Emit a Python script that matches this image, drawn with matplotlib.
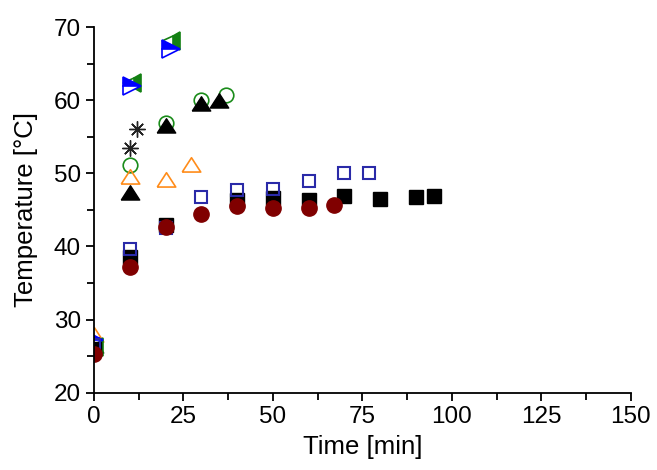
import numpy as np
import matplotlib.pyplot as plt
from matplotlib.ticker import MultipleLocator

plt.rcParams['font.family'] = ['Liberation Sans', 'DejaVu Sans']

# black filled squares
t_sq = [0, 10, 20, 40, 50, 60, 70, 80, 90, 95]
T_sq = [26.0, 38.5, 42.9, 46.4, 46.6, 46.4, 46.9, 46.5, 46.7, 46.9]

# blue open squares
t_osq = [0, 10, 20, 30, 40, 50, 60, 70, 77]
T_osq = [26.5, 39.6, 42.5, 46.7, 47.7, 47.8, 49.0, 50.0, 50.1]

# dark red circles
t_ci = [0, 10, 20, 30, 40, 50, 60, 67]
T_ci = [25.3, 37.2, 42.7, 44.4, 45.5, 45.2, 45.2, 45.7]

# orange open triangles
t_otr = [0, 10, 20, 27]
T_otr = [27.8, 49.3, 49.0, 51.0]

# black filled triangles
t_tr = [0, 10, 20, 30, 35]
T_tr = [26.3, 47.1, 56.3, 59.4, 59.7]

# green open circles
t_oci = [0, 10, 20, 30, 37]
T_oci = [26.6, 51.2, 56.9, 60.0, 60.7]

# asterisks
t_ast = [0, 10, 12]
T_ast = [26.8, 53.4, 56.1]

# green left triangles
t_lt = [0, 10.5, 21.5]
T_lt = [26.2, 62.4, 68.1]

# blue right triangles
t_rt = [0, 10.5, 21.5]
T_rt = [27.2, 62.0, 67.0]

# flattened up-triangle like the original software draws
tri = [(-1, -0.6), (1, -0.6), (0, 0.95), (-1, -0.6)]

fig = plt.figure(figsize=(6.57, 4.70), dpi=100)
ax = fig.add_axes([0.143, 0.1645, 0.817, 0.778])

ax.plot(t_ast, T_ast, ls='none', marker=(8, 2, 0), ms=11.5, mec='#222222', mew=1.0)
ax.plot(t_oci, T_oci, ls='none', marker='o', ms=10.5, mfc='none', mec='#1a8c1a', mew=1.2)
ax.plot(t_otr, T_otr, ls='none', marker=tri, ms=13.3, mfc='none', mec='#ff8c1a', mew=1.2)
ax.plot(t_tr, T_tr, ls='none', marker=tri, ms=13.3, mfc='black', mec='black')
ax.plot(t_lt, T_lt, ls='none', marker='<', ms=12.5, fillstyle='right', mfc='#138013',
        mfcalt='white', mec='#138013', mew=1.2)
ax.plot(t_rt, T_rt, ls='none', marker='>', ms=12.5, fillstyle='top', mfc='#0000ff',
        mfcalt='white', mec='#0000ff', mew=1.2)
ax.plot(t_sq, T_sq, ls='none', marker='s', ms=9.5, mfc='black', mec='black')
ax.plot(t_osq, T_osq, ls='none', marker='s', ms=9.2, mfc='none', mec='#2a2aa8', mew=1.5)
ax.plot(t_ci, T_ci, ls='none', marker='o', ms=11, mfc='#800000', mec='#800000')

ax.set_xlim(0, 150)
ax.set_ylim(20, 70)
ax.xaxis.set_major_locator(MultipleLocator(25))
ax.xaxis.set_minor_locator(MultipleLocator(12.5))
ax.yaxis.set_major_locator(MultipleLocator(10))
ax.yaxis.set_minor_locator(MultipleLocator(5))

for s in ['top', 'right']:
    ax.spines[s].set_visible(False)
for s in ['left', 'bottom']:
    ax.spines[s].set_linewidth(1.3)

ax.tick_params(which='both', direction='out', width=1.3, labelsize=17.5)
ax.tick_params(which='major', length=5.5)
ax.tick_params(which='minor', length=5)
ax.tick_params(axis='y', pad=4)
ax.tick_params(axis='x', pad=4)

ax.set_xlabel('Time [min]', fontsize=18.5)
ax.set_ylabel('Temperature [°C]', fontsize=18.5)
ax.xaxis.set_label_coords(0.5, -0.115)
ax.yaxis.set_label_coords(-0.104, 0.5)

fig.savefig('out.png', dpi=100)
